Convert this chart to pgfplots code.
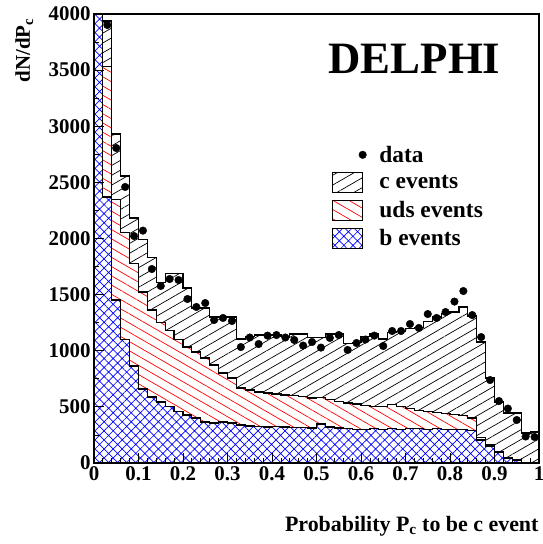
\documentclass[border=0pt]{standalone}
\usepackage{fontspec}
\setmainfont{Liberation Serif}
\usepackage{pgfplots}
\pgfplotsset{compat=1.18}
\usepackage{pgfplotstable}
\usetikzlibrary{patterns.meta}

% histogram components per bin (left edge, b, uds, c)
\pgfplotstableread{
x    b    uds  c
0.00 4400 200  200
0.02 2370 1160 408
0.04 1452 898  581
0.06 1100 950  507
0.08 865  915  403
0.10 660  863  467
0.12 588  775  467
0.14 543  707  360
0.16 500  680  510
0.18 460  640  590
0.20 428  605  526
0.22 401  588  392
0.24 365  570  446
0.26 356  517  428
0.28 365  437  499
0.30 356  401  544
0.32 339  329  437
0.34 330  320  480
0.36 325  308  507
0.38 320  304  511
0.40 322  293  525
0.42 321  285  519
0.44 318  282  550
0.46 315  275  560
0.48 312  267  541
0.50 347  238  535
0.52 320  245  585
0.54 312  238  600
0.56 305  230  530
0.58 300  225  550
0.60 300  210  615
0.62 305  195  650
0.64 300  205  600
0.66 305  215  640
0.68 300  200  675
0.70 310  175  715
0.72 305  165  740
0.74 300  160  800
0.76 305  145  850
0.78 300  140  890
0.80 298  132  915
0.82 300  120  970
0.84 290  110  910
0.86 205  20   853
0.88 145  15   597
0.90 90   10   443
0.92 45   5    395
0.94 25   5    415
0.96 5    3    259
0.98 0    2    274
1.00 0    2    274
}\hist

\pgfplotstableread{
x    y
0.03 3902
0.05 2806
0.07 2459
0.09 2022
0.11 2070
0.13 1728
0.15 1577
0.17 1639
0.19 1630
0.21 1461
0.23 1390
0.25 1425
0.27 1274
0.29 1292
0.31 1265
0.33 1033
0.35 1118
0.37 1060
0.39 1135
0.41 1140
0.43 1118
0.45 1096
0.47 1046
0.49 1078
0.51 1028
0.53 1114
0.55 1140
0.57 1007
0.59 1069
0.61 1100
0.63 1135
0.65 1042
0.67 1176
0.69 1176
0.71 1238
0.73 1203
0.75 1327
0.77 1292
0.79 1345
0.81 1438
0.83 1532
0.85 1318
0.87 1122
0.89 739
0.91 552
0.93 485
0.95 383
0.97 236
0.99 232
}\datapts

\pgfplotsset{
  cpat/.style={preaction={fill=white},pattern={Lines[angle=30,distance=8.5bp,line width=0.7bp]},pattern color=black},
  udspat/.style={preaction={fill=white},pattern={Lines[angle=-30,distance=8bp,line width=0.7bp]},pattern color=red},
  bpat/.style={preaction={fill=white},pattern={Hatch[angle=45,distance=6.4bp,line width=0.7bp]},pattern color=blue},
  boxleg/.style={legend image code/.code={\draw[##1] (0bp,-10bp) rectangle (30bp,10bp);}},
  dotleg/.style={legend image code/.code={\path (0bp,0bp); \draw[##1] plot coordinates {(30bp,0bp)};}},
}

\begin{document}
\begin{tikzpicture}
\path[use as bounding box] (-94bp,-81bp) rectangle (449bp,463bp);
\begin{axis}[
  at={(0,0)}, anchor=south west,
  width=445bp, height=449bp, scale only axis,
  xmin=0, xmax=1, ymin=0, ymax=4000,
  axis on top,
  axis line style={line width=1.2bp},
  tick align=inside, tick pos=left,
  xtick={0,0.1,0.2,0.3,0.4,0.5,0.6,0.7,0.8,0.9,1},
  xticklabels={0,0.1,0.2,0.3,0.4,0.5,0.6,0.7,0.8,0.9,1},
  minor x tick num=4,
  ytick={0,500,1000,1500,2000,2500,3000,3500,4000},
  minor y tick num=1,
  major tick length=10bp, minor tick length=5bp,
  every tick/.style={black, line width=0.8bp},
  tick label style={font=\fontsize{21}{25}\selectfont\bfseries},
  /pgf/number format/assume math mode=true,
  /pgf/number format/1000 sep={},
  scaled y ticks=false,
  legend cell align=left,
  legend style={at={(rel axis cs:0.535,0.711)}, anchor=north west,
    draw=none, fill=none, inner sep=0pt,
    font=\fontsize{23.5}{27}\selectfont\bfseries,
    row sep=6.5bp,
    /tikz/every odd column/.append style={column sep=11bp}},
]
\addlegendimage{dotleg, only marks, mark=*, mark size=3.8bp, black}
\addlegendentry{data}
\addlegendimage{boxleg, cpat, draw=black, line width=0.8bp}
\addlegendentry{c events}
\addlegendimage{boxleg, udspat, draw=black, line width=0.8bp}
\addlegendentry{uds events}
\addlegendimage{boxleg, bpat, draw=black, line width=0.8bp}
\addlegendentry{b events}

\addplot[forget plot, const plot, draw=black, line width=1.2bp, cpat]
  table[x=x, y expr=\thisrow{b}+\thisrow{uds}+\thisrow{c}] {\hist} \closedcycle;
\addplot[forget plot, const plot, draw=black, line width=1.2bp, udspat]
  table[x=x, y expr=\thisrow{b}+\thisrow{uds}] {\hist} \closedcycle;
\addplot[forget plot, const plot, draw=black, line width=1.2bp, bpat]
  table[x=x, y=b] {\hist} \closedcycle;
\addplot[forget plot, only marks, mark=*, mark size=3.8bp, black]
  table[x=x, y=y] {\datapts};

\node[anchor=base west, font=\fontsize{45}{50}\selectfont\bfseries] at (axis cs:0.519,3466) {DELPHI};
\end{axis}
\node[rotate=90, anchor=base east, font=\fontsize{21}{25}\selectfont\bfseries] at (-64bp,448bp) {dN/dP\textsubscript{c}};
\node[anchor=base east, font=\fontsize{22}{26}\selectfont\bfseries] at (448bp,-68bp) {Probability P\textsubscript{c} to be c event};
\end{tikzpicture}
\end{document}
